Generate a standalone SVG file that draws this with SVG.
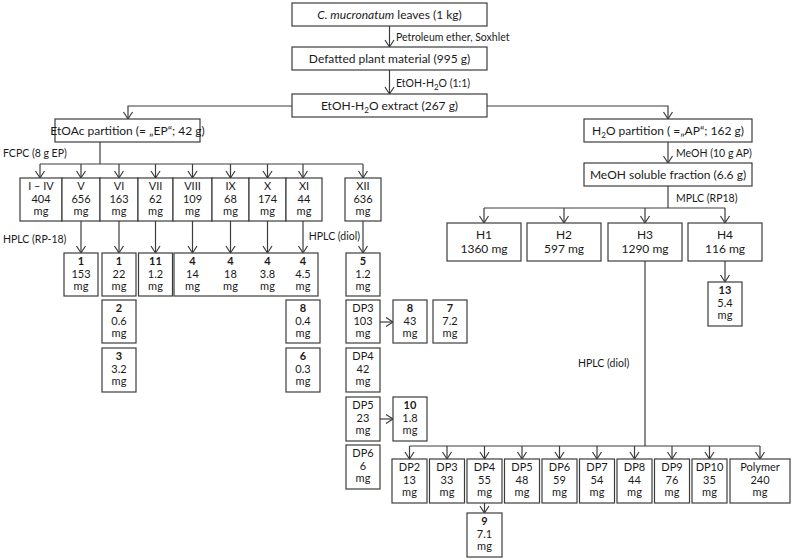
<svg xmlns="http://www.w3.org/2000/svg" width="793" height="560" viewBox="0 0 793 560">
<defs>
<style>
.b{fill:#fff;stroke:#3c3c3c;stroke-width:1.2}
.t{font-family:Lato,"Liberation Sans",sans-serif;font-size:12px;fill:#1a1a1a;text-anchor:middle}
.s{font-family:Lato,"Liberation Sans",sans-serif;font-size:11px;fill:#1a1a1a;text-anchor:middle}
.l{font-family:Lato,"Liberation Sans",sans-serif;font-size:10.5px;fill:#1a1a1a}
.n{font-weight:bold}
.c{fill:none;stroke:#3c3c3c;stroke-width:1.2}
.a{fill:none;stroke:#3c3c3c;stroke-width:1.2;marker-end:url(#ah)}
</style>
<marker id="ah" viewBox="-8 -6 10 12" refX="0" refY="0" markerWidth="10" markerHeight="12" markerUnits="userSpaceOnUse" orient="auto">
<path d="M-7,-4.5 L0,0 L-7,4.5" fill="none" stroke="#3c3c3c" stroke-width="1.2"/>
</marker>
</defs>

<g id="connectors">
<line class="a" x1="389.5" y1="26" x2="389.5" y2="47"/>
<line class="a" x1="389.5" y1="70" x2="389.5" y2="94"/>
<polyline class="a" points="292,106 128,106 128,119"/>
<polyline class="a" points="487,106 668,106 668,119"/>
<line class="c" x1="100" y1="142" x2="100" y2="164"/>
<line class="c" x1="40" y1="164" x2="363" y2="164"/>
<line class="a" x1="40" y1="164" x2="40" y2="178"/>
<line class="a" x1="81" y1="164" x2="81" y2="178"/>
<line class="a" x1="119" y1="164" x2="119" y2="178"/>
<line class="a" x1="155.5" y1="164" x2="155.5" y2="178"/>
<line class="a" x1="192.5" y1="164" x2="192.5" y2="178"/>
<line class="a" x1="230.5" y1="164" x2="230.5" y2="178"/>
<line class="a" x1="267.5" y1="164" x2="267.5" y2="178"/>
<line class="a" x1="303" y1="164" x2="303" y2="178"/>
<line class="a" x1="363" y1="164" x2="363" y2="178"/>
<line class="a" x1="81" y1="221" x2="81" y2="253"/>
<line class="a" x1="119" y1="221" x2="119" y2="253"/>
<line class="a" x1="155.5" y1="221" x2="155.5" y2="253"/>
<line class="a" x1="192.5" y1="221" x2="192.5" y2="253"/>
<line class="a" x1="230.5" y1="221" x2="230.5" y2="253"/>
<line class="a" x1="267.5" y1="221" x2="267.5" y2="253"/>
<line class="a" x1="303" y1="221" x2="303" y2="253"/>
<line class="a" x1="363" y1="221" x2="363" y2="253"/>
<line class="a" x1="380" y1="322" x2="393" y2="322"/>
<line class="a" x1="380" y1="419" x2="393" y2="419"/>
<line class="a" x1="668" y1="142" x2="668" y2="163"/>
<line class="c" x1="668" y1="186" x2="668" y2="208"/>
<line class="c" x1="484" y1="208" x2="725" y2="208"/>
<line class="a" x1="484" y1="208" x2="484" y2="223"/>
<line class="a" x1="564" y1="208" x2="564" y2="223"/>
<line class="a" x1="645" y1="208" x2="645" y2="223"/>
<line class="a" x1="725" y1="208" x2="725" y2="223"/>
<line class="a" x1="725" y1="261" x2="725" y2="282"/>
<line class="c" x1="645" y1="261" x2="645" y2="446"/>
<line class="c" x1="409.5" y1="446" x2="760" y2="446"/>
<line class="a" x1="409.5" y1="446" x2="409.5" y2="459"/>
<line class="a" x1="447" y1="446" x2="447" y2="459"/>
<line class="a" x1="484.5" y1="446" x2="484.5" y2="459"/>
<line class="a" x1="522" y1="446" x2="522" y2="459"/>
<line class="a" x1="559.5" y1="446" x2="559.5" y2="459"/>
<line class="a" x1="597" y1="446" x2="597" y2="459"/>
<line class="a" x1="634.5" y1="446" x2="634.5" y2="459"/>
<line class="a" x1="672" y1="446" x2="672" y2="459"/>
<line class="a" x1="709.5" y1="446" x2="709.5" y2="459"/>
<line class="a" x1="760" y1="446" x2="760" y2="459"/>
<line class="a" x1="484.5" y1="503" x2="484.5" y2="513"/>
</g>

<g id="labels">
<text class="l" x="396" y="41">Petroleum ether, Soxhlet</text>
<text class="l" x="396" y="87">EtOH-H<tspan font-size="8" dy="3">2</tspan><tspan dy="-3">O (1:1)</tspan></text>
<text class="l" x="3" y="157">FCPC (8 g EP)</text>
<text class="l" x="3" y="243">HPLC (RP-18)</text>
<text class="l" x="360" y="240" text-anchor="end">HPLC (diol)</text>
<text class="l" x="676" y="157">MeOH (10 g AP)</text>
<text class="l" x="676" y="202">MPLC (RP18)</text>
<text class="l" x="578" y="367">HPLC (diol)</text>
</g>

<g id="leaves"><rect class="b" x="292" y="3" width="195" height="23"/><text class="t" x="389.5" y="19"><tspan font-style="italic">C. mucronatum</tspan> leaves (1 kg)</text></g>
<g id="defatted"><rect class="b" x="292" y="47" width="195" height="23"/><text class="t" x="389.5" y="63">Defatted plant material (995 g)</text></g>
<g id="extract"><rect class="b" x="292" y="94" width="195" height="23"/><text class="t" x="389.5" y="110">EtOH-H<tspan font-size="8" dy="3">2</tspan><tspan dy="-3">O extract (267 g)</tspan></text></g>
<g id="ep"><rect class="b" x="55" y="119" width="145" height="23"/><text class="t" x="127.5" y="135">EtOAc partition (= „EP“; 42 g)</text></g>
<g id="ap"><rect class="b" x="584" y="119" width="168" height="23"/><text class="t" x="668" y="135">H<tspan font-size="8" dy="3">2</tspan><tspan dy="-3">O partition ( =„AP“; 162 g)</tspan></text></g>
<g id="meoh"><rect class="b" x="584" y="163" width="168" height="23"/><text class="t" x="668" y="179">MeOH soluble fraction (6.6 g)</text></g>

<g id="fI-IV"><rect class="b" x="20" y="178" width="42" height="43"/><text class="s" y="190"><tspan x="41">I – IV</tspan><tspan x="41" dy="12.5">404</tspan><tspan x="41" dy="12.5">mg</tspan></text></g>
<g id="fV"><rect class="b" x="62" y="178" width="38" height="43"/><text class="s" y="190"><tspan x="81">V</tspan><tspan x="81" dy="12.5">656</tspan><tspan x="81" dy="12.5">mg</tspan></text></g>
<g id="fVI"><rect class="b" x="100" y="178" width="38" height="43"/><text class="s" y="190"><tspan x="119">VI</tspan><tspan x="119" dy="12.5">163</tspan><tspan x="119" dy="12.5">mg</tspan></text></g>
<g id="fVII"><rect class="b" x="138" y="178" width="35" height="43"/><text class="s" y="190"><tspan x="155.5">VII</tspan><tspan x="155.5" dy="12.5">62</tspan><tspan x="155.5" dy="12.5">mg</tspan></text></g>
<g id="fVIII"><rect class="b" x="173" y="178" width="39" height="43"/><text class="s" y="190"><tspan x="192.5">VIII</tspan><tspan x="192.5" dy="12.5">109</tspan><tspan x="192.5" dy="12.5">mg</tspan></text></g>
<g id="fIX"><rect class="b" x="212" y="178" width="37" height="43"/><text class="s" y="190"><tspan x="230.5">IX</tspan><tspan x="230.5" dy="12.5">68</tspan><tspan x="230.5" dy="12.5">mg</tspan></text></g>
<g id="fX"><rect class="b" x="249" y="178" width="37" height="43"/><text class="s" y="190"><tspan x="267.5">X</tspan><tspan x="267.5" dy="12.5">174</tspan><tspan x="267.5" dy="12.5">mg</tspan></text></g>
<g id="fXI"><rect class="b" x="286" y="178" width="36" height="43"/><text class="s" y="190"><tspan x="304">XI</tspan><tspan x="304" dy="12.5">44</tspan><tspan x="304" dy="12.5">mg</tspan></text></g>
<g id="fXII"><rect class="b" x="345" y="178" width="36" height="43"/><text class="s" y="190"><tspan x="363">XII</tspan><tspan x="363" dy="12.5">636</tspan><tspan x="363" dy="12.5">mg</tspan></text></g>

<g id="c1a"><rect class="b" x="64" y="253" width="34" height="43"/><text class="s" y="265"><tspan x="81" class="n">1</tspan><tspan x="81" dy="12.5">153</tspan><tspan x="81" dy="12.5">mg</tspan></text></g>
<g id="c1b"><rect class="b" x="102" y="253" width="34" height="43"/><text class="s" y="265"><tspan x="119" class="n">1</tspan><tspan x="119" dy="12.5">22</tspan><tspan x="119" dy="12.5">mg</tspan></text></g>
<g id="c11"><rect class="b" x="138.5" y="253" width="34" height="43"/><text class="s" y="265"><tspan x="155.5" class="n">11</tspan><tspan x="155.5" dy="12.5">1.2</tspan><tspan x="155.5" dy="12.5">mg</tspan></text></g>
<g id="c4"><rect class="b" x="174" y="253" width="144" height="43"/>
<text class="s" y="265"><tspan x="192.5" class="n">4</tspan><tspan x="192.5" dy="12.5">14</tspan><tspan x="192.5" dy="12.5">mg</tspan></text>
<text class="s" y="265"><tspan x="230.5" class="n">4</tspan><tspan x="230.5" dy="12.5">18</tspan><tspan x="230.5" dy="12.5">mg</tspan></text>
<text class="s" y="265"><tspan x="267.5" class="n">4</tspan><tspan x="267.5" dy="12.5">3.8</tspan><tspan x="267.5" dy="12.5">mg</tspan></text>
<text class="s" y="265"><tspan x="303" class="n">4</tspan><tspan x="303" dy="12.5">4.5</tspan><tspan x="303" dy="12.5">mg</tspan></text></g>
<g id="c2"><rect class="b" x="102" y="300" width="34" height="43"/><text class="s" y="312"><tspan x="119" class="n">2</tspan><tspan x="119" dy="12.5">0.6</tspan><tspan x="119" dy="12.5">mg</tspan></text></g>
<g id="c3"><rect class="b" x="102" y="348" width="34" height="44"/><text class="s" y="360"><tspan x="119" class="n">3</tspan><tspan x="119" dy="12.5">3.2</tspan><tspan x="119" dy="12.5">mg</tspan></text></g>
<g id="c8a"><rect class="b" x="286" y="300" width="34" height="43"/><text class="s" y="312"><tspan x="303" class="n">8</tspan><tspan x="303" dy="12.5">0.4</tspan><tspan x="303" dy="12.5">mg</tspan></text></g>
<g id="c6"><rect class="b" x="286" y="348" width="34" height="44"/><text class="s" y="360"><tspan x="303" class="n">6</tspan><tspan x="303" dy="12.5">0.3</tspan><tspan x="303" dy="12.5">mg</tspan></text></g>

<g id="c5"><rect class="b" x="346" y="253" width="34" height="43"/><text class="s" y="265"><tspan x="363" class="n">5</tspan><tspan x="363" dy="12.5">1.2</tspan><tspan x="363" dy="12.5">mg</tspan></text></g>
<g id="xdp3"><rect class="b" x="346" y="300" width="34" height="43"/><text class="s" y="312"><tspan x="363">DP3</tspan><tspan x="363" dy="12.5">103</tspan><tspan x="363" dy="12.5">mg</tspan></text></g>
<g id="xdp4"><rect class="b" x="346" y="348" width="34" height="44"/><text class="s" y="360"><tspan x="363">DP4</tspan><tspan x="363" dy="12.5">42</tspan><tspan x="363" dy="12.5">mg</tspan></text></g>
<g id="xdp5"><rect class="b" x="346" y="397" width="34" height="44"/><text class="s" y="409"><tspan x="363">DP5</tspan><tspan x="363" dy="12.5">23</tspan><tspan x="363" dy="12.5">mg</tspan></text></g>
<g id="xdp6"><rect class="b" x="346" y="445" width="34" height="44"/><text class="s" y="457"><tspan x="363">DP6</tspan><tspan x="363" dy="12.5">6</tspan><tspan x="363" dy="12.5">mg</tspan></text></g>
<g id="c8b"><rect class="b" x="393" y="300" width="34" height="43"/><text class="s" y="312"><tspan x="410" class="n">8</tspan><tspan x="410" dy="12.5">43</tspan><tspan x="410" dy="12.5">mg</tspan></text></g>
<g id="c7"><rect class="b" x="433" y="300" width="34" height="43"/><text class="s" y="312"><tspan x="450" class="n">7</tspan><tspan x="450" dy="12.5">7.2</tspan><tspan x="450" dy="12.5">mg</tspan></text></g>
<g id="c10"><rect class="b" x="393" y="397" width="34" height="44"/><text class="s" y="409"><tspan x="410" class="n">10</tspan><tspan x="410" dy="12.5">1.8</tspan><tspan x="410" dy="12.5">mg</tspan></text></g>

<g id="h1"><rect class="b" x="447" y="223" width="74" height="38"/><text class="t" y="239"><tspan x="484">H1</tspan><tspan x="484" dy="14">1360 mg</tspan></text></g>
<g id="h2"><rect class="b" x="527" y="223" width="74" height="38"/><text class="t" y="239"><tspan x="564">H2</tspan><tspan x="564" dy="14">597 mg</tspan></text></g>
<g id="h3"><rect class="b" x="608" y="223" width="74" height="38"/><text class="t" y="239"><tspan x="645">H3</tspan><tspan x="645" dy="14">1290 mg</tspan></text></g>
<g id="h4"><rect class="b" x="688" y="223" width="74" height="38"/><text class="t" y="239"><tspan x="725">H4</tspan><tspan x="725" dy="14">116 mg</tspan></text></g>
<g id="c13"><rect class="b" x="708" y="282" width="34" height="44"/><text class="s" y="294"><tspan x="725" class="n">13</tspan><tspan x="725" dy="12.5">5.4</tspan><tspan x="725" dy="12.5">mg</tspan></text></g>

<g id="bdp2"><rect class="b" x="392" y="459" width="35" height="44"/><text class="s" y="471"><tspan x="409.5">DP2</tspan><tspan x="409.5" dy="12.5">13</tspan><tspan x="409.5" dy="12.5">mg</tspan></text></g>
<g id="bdp3"><rect class="b" x="429.5" y="459" width="35" height="44"/><text class="s" y="471"><tspan x="447">DP3</tspan><tspan x="447" dy="12.5">33</tspan><tspan x="447" dy="12.5">mg</tspan></text></g>
<g id="bdp4"><rect class="b" x="467" y="459" width="35" height="44"/><text class="s" y="471"><tspan x="484.5">DP4</tspan><tspan x="484.5" dy="12.5">55</tspan><tspan x="484.5" dy="12.5">mg</tspan></text></g>
<g id="bdp5"><rect class="b" x="504.5" y="459" width="35" height="44"/><text class="s" y="471"><tspan x="522">DP5</tspan><tspan x="522" dy="12.5">48</tspan><tspan x="522" dy="12.5">mg</tspan></text></g>
<g id="bdp6"><rect class="b" x="542" y="459" width="35" height="44"/><text class="s" y="471"><tspan x="559.5">DP6</tspan><tspan x="559.5" dy="12.5">59</tspan><tspan x="559.5" dy="12.5">mg</tspan></text></g>
<g id="bdp7"><rect class="b" x="579.5" y="459" width="35" height="44"/><text class="s" y="471"><tspan x="597">DP7</tspan><tspan x="597" dy="12.5">54</tspan><tspan x="597" dy="12.5">mg</tspan></text></g>
<g id="bdp8"><rect class="b" x="617" y="459" width="35" height="44"/><text class="s" y="471"><tspan x="634.5">DP8</tspan><tspan x="634.5" dy="12.5">44</tspan><tspan x="634.5" dy="12.5">mg</tspan></text></g>
<g id="bdp9"><rect class="b" x="654.5" y="459" width="35" height="44"/><text class="s" y="471"><tspan x="672">DP9</tspan><tspan x="672" dy="12.5">76</tspan><tspan x="672" dy="12.5">mg</tspan></text></g>
<g id="bdp10"><rect class="b" x="692" y="459" width="35" height="44"/><text class="s" y="471"><tspan x="709.5">DP10</tspan><tspan x="709.5" dy="12.5">35</tspan><tspan x="709.5" dy="12.5">mg</tspan></text></g>
<g id="bpoly"><rect class="b" x="730" y="459" width="60" height="44"/><text class="s" y="471"><tspan x="760">Polymer</tspan><tspan x="760" dy="12.5">240</tspan><tspan x="760" dy="12.5">mg</tspan></text></g>
<g id="c9"><rect class="b" x="467" y="513" width="35" height="44"/><text class="s" y="525"><tspan x="484.5" class="n">9</tspan><tspan x="484.5" dy="12.5">7.1</tspan><tspan x="484.5" dy="12.5">mg</tspan></text></g>
</svg>
